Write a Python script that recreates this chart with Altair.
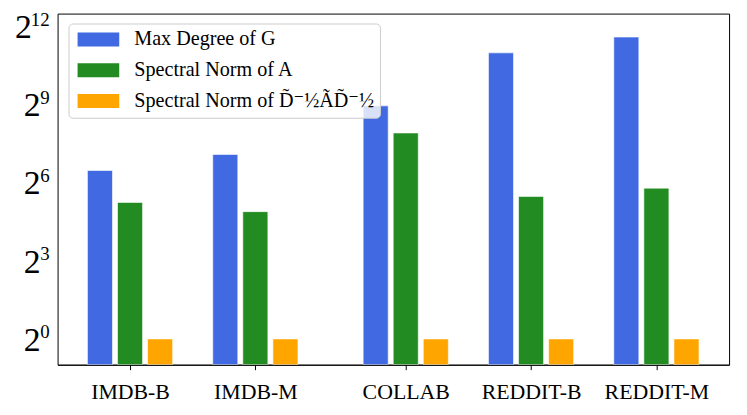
import altair as alt
import pandas as pd

# ---- data ----
datasets = ["IMDB-B", "IMDB-M", "COLLAB", "REDDIT-B", "REDDIT-M"]
group_pos = [0, 1, 2.2, 3.2, 4.2]
series_names = ["Max Degree of G", "Spectral Norm of A", "Spectral Norm of D̃⁻½ÃD̃⁻½"]
series_colors = ["#4169E1", "#228B22", "#FFA500"]
series_offset = [-0.24, 0.0, 0.24]
max_degree = [88, 135, 491, 2011, 3062]
spectral_A = [37.7, 29.5, 239, 44.2, 55.1]
spectral_norm = [1, 1, 1, 1, 1]
ytick_exp = [0, 3, 6, 9, 12]
y_lo_exp, y_hi_exp = -0.99, 12.48
bar_w = 0.2

rows = []
for vals, name, off in zip([max_degree, spectral_A, spectral_norm], series_names, series_offset):
    for d, p, v in zip(datasets, group_pos, vals):
        rows.append({"dataset": d, "pos": p, "series": name, "off": off, "value": v})
df = pd.DataFrame(rows)
ydf = pd.DataFrame({"e": ytick_exp})

label_expr = " : ".join(
    f"abs(datum.value - {p}) < 0.01 ? '{d}'" for p, d in zip(group_pos, datasets)
) + " : ''"

FONT = "'Liberation Serif', 'Times New Roman', Times, 'DejaVu Serif', serif"
y_scale = alt.Scale(type="log", base=2, domain=[2 ** y_lo_exp, 2 ** y_hi_exp], nice=False)
x_scale = alt.Scale(domain=[-0.578, 4.78], nice=False, zero=False)

bars = alt.Chart(df).transform_calculate(
    xl=f"datum.pos + datum.off - {bar_w/2}",
    xr=f"datum.pos + datum.off + {bar_w/2}",
).mark_bar(stroke="white", strokeWidth=1, strokeOpacity=0.6, clip=True).encode(
    x=alt.X("xl:Q", scale=x_scale,
            axis=alt.Axis(values=group_pos, labelExpr=label_expr, title=None, grid=False,
                          domainColor="black", tickColor="black", tickSize=5,
                          labelFont=FONT, labelFontSize=22, labelColor="black",
                          labelPadding=12, labelFlush=False, labelOverlap=False)),
    x2="xr:Q",
    y=alt.Y("value:Q", scale=y_scale,
            axis=alt.Axis(values=[2 ** k for k in range(13)], labels=False, title=None,
                          grid=True, gridColor="#b0b0b0", gridOpacity=0.4,
                          domainColor="black", tickColor="black", tickSize=5, zindex=1)),
    y2=alt.datum(2 ** y_lo_exp),
    color=alt.Color("series:N", scale=alt.Scale(domain=series_names, range=series_colors),
                    legend=alt.Legend(title=None, orient="none", legendX=11, legendY=10,
                                      symbolType="M-1,-1H5V1H-1Z", symbolSize=196,
                                      symbolStrokeWidth=0, symbolOpacity=1,
                                      labelFont=FONT, labelFontSize=20.3, labelColor="black",
                                      labelLimit=600, labelOffset=40, rowPadding=10,
                                      padding=6, fillColor="rgba(255,255,255,0.8)",
                                      strokeColor="#cccccc", cornerRadius=4)),
)

ybase = alt.Chart(ydf).transform_calculate(v="pow(2, datum.e)", es="toString(datum.e)")

two_single = ybase.transform_filter("datum.e < 10").mark_text(
    align="right", baseline="middle", font=FONT, fontSize=34, color="black", dy=2
).encode(x=alt.value(-17), y=alt.Y("v:Q", scale=y_scale, axis=None), text=alt.value("2"))

two_double = ybase.transform_filter("datum.e >= 10").mark_text(
    align="right", baseline="middle", font=FONT, fontSize=34, color="black", dy=2
).encode(x=alt.value(-26), y=alt.Y("v:Q", scale=y_scale, axis=None), text=alt.value("2"))

expo = ybase.mark_text(
    align="right", baseline="middle", font=FONT, fontSize=19, color="black", dy=-6.5
).encode(x=alt.value(-8), y=alt.Y("v:Q", scale=y_scale, axis=None), text="es:N")

chart = alt.layer(bars, two_single, two_double, expo).properties(
    width=677, height=354,
    padding={"left": 50, "top": 4, "right": 10, "bottom": 40},
    autosize="none",
).configure_view(stroke="black", strokeWidth=1)

chart.save("out.html", embed_options={"renderer": "svg", "actions": False})
